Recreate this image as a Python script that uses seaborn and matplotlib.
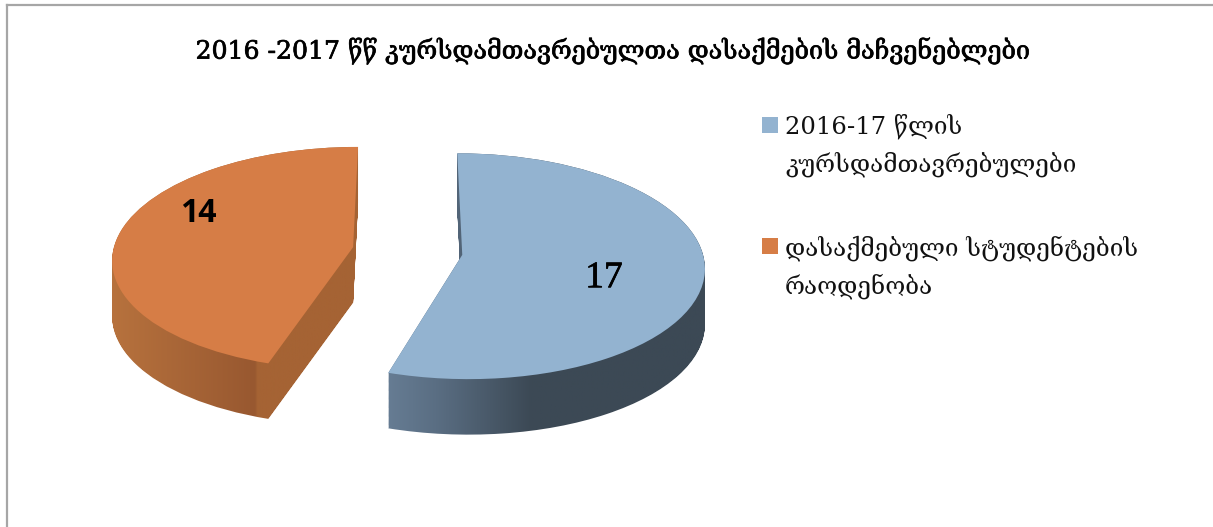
import numpy as np
import matplotlib as mpl
mpl.use("Agg")
import matplotlib.pyplot as plt
import matplotlib.patheffects as pe
import seaborn as sns
from matplotlib.colors import LinearSegmentedColormap
from matplotlib.legend_handler import HandlerPatch
from matplotlib.offsetbox import HPacker
from matplotlib.patches import Rectangle, Wedge
from matplotlib.path import Path
from matplotlib.transforms import Transform

# Data
title = "2016 -2017 წწ კურსდამთავრებულთა დასაქმების მაჩვენებლები"
categories = ["2016-17 წლის\nკურსდამთავრებულები", "დასაქმებული სტუდენტების\nრაოდენობა"]
values = [17, 14]

# Styles
top_colors = ["#93B3D0", "#D67D46"]
side_stops = [
    [(0.0, "#667C93"), (0.15, "#5A6E83"), (0.45, "#3C4955"), (1.0, "#3C4955")],
    [(0.0, "#B8733E"), (0.59, "#985830"), (0.6, "#A56334"), (1.0, "#A56334")],
]
serif = ["DejaVu Serif", "DejaVu Sans"]

W, H = 1213, 527
rx, ry = 240, 111  # pie radii in pixels
cx, cy = 407.5, 251  # pie centre in pixels
left, top = 7, 5  # chart frame
tilt = 0.1  # strength of the perspective
depth = 0.5  # wall height in pie radii


class Perspective(Transform):
    input_dims = output_dims = 2

    def transform_non_affine(self, values):
        values = np.asarray(values)
        return values / (1 + tilt * values[:, 1:2])


def legend_square(legend, orig_handle, xdescent, ydescent, width, height, fontsize):
    # square sits a little below the top of the first text line
    return Rectangle((-xdescent, -ydescent - 2.2), width, height)


sns.set_theme(style="white")
plt.rcParams["font.family"] = serif

fig = plt.figure(figsize=(W / 100, H / 100), dpi=100)
ax = fig.add_axes([left / W, 0, (W - left) / W, (H - top) / H])

persp = Perspective()
wedges, _ = ax.pie(
    values,
    explode=[0.23, 0.23],
    startangle=90,
    counterclock=False,
    colors=top_colors,
    wedgeprops=dict(zorder=3, linewidth=0),
)
for w in wedges:
    w.set_transform(persp + ax.transData)

# Side walls: the top face repeated downwards, filled with a left to right gradient
for i, stops in enumerate(side_stops):
    face = persp.transform_path(wedges[i].get_path())
    shifted = [
        Path(face.vertices - [0, d], face.codes) for d in np.linspace(0, depth, 50)
    ]
    compound = Path.make_compound_path(*shifted)
    x0, y0 = compound.vertices.min(axis=0)
    x1, y1 = compound.vertices.max(axis=0)
    cmap = LinearSegmentedColormap.from_list(f"side{i}", stops, N=256)
    im = ax.imshow(
        np.linspace(0, 1, 256).reshape(1, -1),
        cmap=cmap,
        extent=(x0, x1, y0, y1),
        aspect="auto",
        zorder=1,
    )
    im.set_clip_path(compound, transform=ax.transData)

ax.set_aspect("auto")
ax.set_frame_on(True)
ax.set_xlim((left - cx) / rx, (W - cx) / rx)
ax.set_ylim(-(H - cy) / ry, (cy - top) / ry)
sns.despine(ax=ax, top=False, right=True, bottom=True)
for side in ["left", "top"]:
    ax.spines[side].set_color("#A6A6A6")
    ax.spines[side].set_linewidth(1.6)

# Value labels
thicker = [pe.withStroke(linewidth=0.5, foreground="black")]
fig.text(604 / W, 1 - 278 / H, str(values[0]), ha="center", va="center",
         fontsize=27, color="black", family="Liberation Serif", zorder=5,
         path_effects=thicker)
fig.text(198 / W, 1 - 213 / H, str(values[1]), ha="center", va="center",
         fontsize=23, fontweight="bold", color="black", family="Open Sans", zorder=5)

fig.text(613 / W, 1 - 51 / H, title, ha="center", va="center", fontsize=18.1,
         color="black", path_effects=thicker)

leg = ax.legend(
    wedges,
    categories,
    loc="upper left",
    bbox_to_anchor=(762 / W, 1 - 114 / H),
    bbox_transform=fig.transFigure,
    frameon=False,
    fontsize=17.5,
    handlelength=0.65,
    handleheight=0.65,
    handletextpad=0.3,
    labelspacing=2.4,
    borderpad=0,
    borderaxespad=0,
    handler_map={Wedge: HandlerPatch(patch_func=legend_square)},
)
for t in leg.get_texts():
    t.set_linespacing(1.6)
    t.set_color("#111111")
for hp in leg.findobj(HPacker):
    hp.align = "top"

fig.savefig("out.png", dpi=100)
plt.close(fig)
